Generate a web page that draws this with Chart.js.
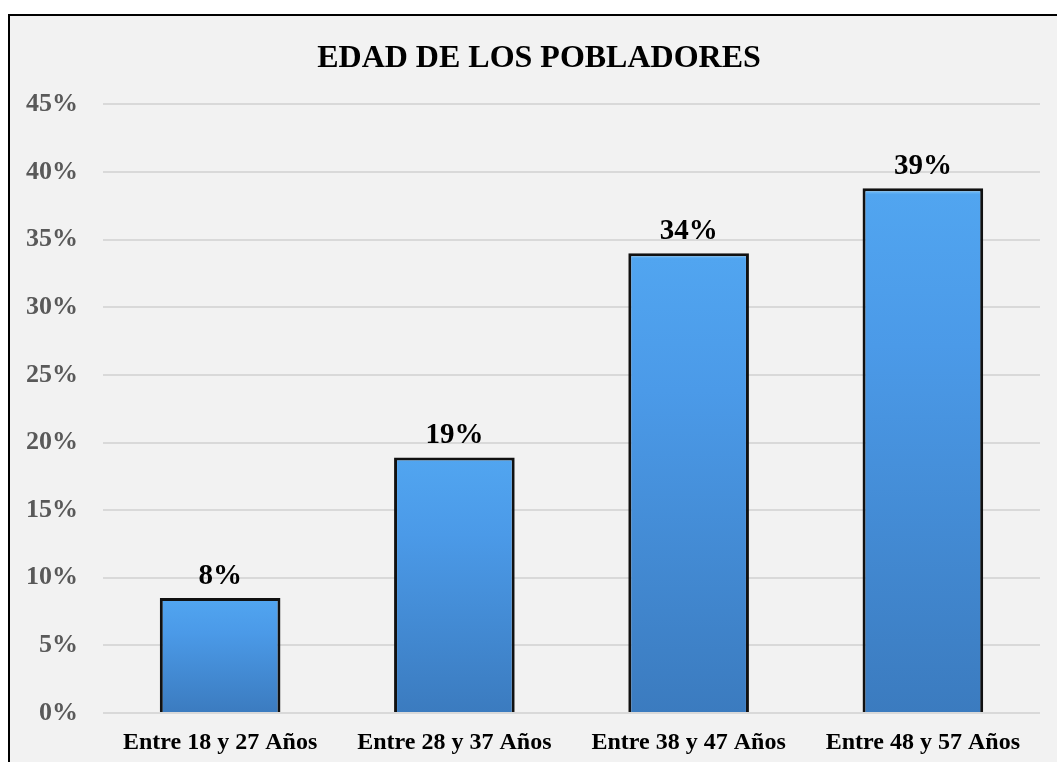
<!DOCTYPE html>
<html lang="es">
<head>
<meta charset="UTF-8">
<title>Edad de los pobladores</title>
<script src="https://cdn.jsdelivr.net/npm/chart.js"></script>
<style>
  body { margin: 0; background: #fff; overflow: hidden; }
  #frame {
    position: absolute; left: 8px; top: 14px;
    width: 1060px; height: 760px;
    border: 2px solid #000; background: #f2f2f2;
  }
</style>
</head>
<body>
<div id="frame">
  <canvas id="myChart" width="1060" height="760"></canvas>
</div>
<script>
// data
const categories = ['Entre 18 y 27 Años', 'Entre 28 y 37 Años', 'Entre 38 y 47 Años', 'Entre 48 y 57 Años'];
const values = [8.5, 18.9, 34.0, 38.8];
const valueLabels = ['8%', '19%', '34%', '39%'];

const serif = "'Liberation Serif', 'Times New Roman', serif";

function barFill(ctx) {
  const chart = ctx.chart;
  const y = chart.scales.y;
  if (!y || ctx.raw == null) return '#4a94e0';
  const top = y.getPixelForValue(ctx.raw);
  const base = y.getPixelForValue(0);
  if (!isFinite(top) || !isFinite(base) || top === base) return '#4a94e0';
  const g = chart.ctx.createLinearGradient(0, top, 0, base);
  g.addColorStop(0, '#8ed0fb');
  g.addColorStop(0.012, '#51a5f0');
  g.addColorStop(0.3, '#4b9ae8');
  g.addColorStop(1, '#3b7bbf');
  return g;
}

// draws the value above each bar
const valueLabelPlugin = {
  id: 'valueLabels',
  afterLayout(chart) {
    // title sits a little right of the canvas centre
    if (chart.titleBlock) chart.titleBlock.left += 28;
  },
  afterDatasetsDraw(chart) {
    const c = chart.ctx;
    const meta = chart.getDatasetMeta(0);
    c.save();
    c.font = 'bold 29px ' + serif;
    c.fillStyle = '#000';
    c.textAlign = 'center';
    c.textBaseline = 'alphabetic';
    meta.data.forEach((bar, i) => {
      c.fillText(valueLabels[i], bar.x, bar.y - 14);
    });
    c.restore();
  }
};

new Chart(document.getElementById('myChart'), {
  type: 'bar',
  data: {
    labels: categories,
    datasets: [{
      data: values,
      backgroundColor: barFill,
      borderColor: '#111',
      borderWidth: 3,
      categoryPercentage: 1,
      barPercentage: 0.515
    }]
  },
  options: {
    responsive: false,
    animation: false,
    layout: { padding: { left: 0, right: 30, top: 0, bottom: 20 } },
    plugins: {
      legend: { display: false },
      tooltip: { enabled: false },
      title: {
        display: true,
        text: 'EDAD DE LOS POBLADORES',
        color: '#000',
        font: { family: serif, size: 32, weight: 'bold' },
        padding: { top: 24, bottom: 26 }
      }
    },
    scales: {
      x: {
        grid: { display: false, drawTicks: false },
        border: { display: false },
        afterFit: s => { s.height = 43; },
        ticks: {
          color: '#000',
          padding: 15,
          maxRotation: 0,
          font: { family: serif, size: 24, weight: 'bold' }
        }
      },
      y: {
        min: 0,
        max: 45,
        border: { display: false },
        grid: { color: '#d9d9d9', lineWidth: 2, drawTicks: false },
        afterFit: s => { s.width = 93; },
        ticks: {
          stepSize: 5,
          color: '#595959',
          padding: 25,
          font: { family: serif, size: 26, weight: 'bold' },
          callback: v => v + '%'
        }
      }
    }
  },
  plugins: [valueLabelPlugin]
});
</script>
</body>
</html>
